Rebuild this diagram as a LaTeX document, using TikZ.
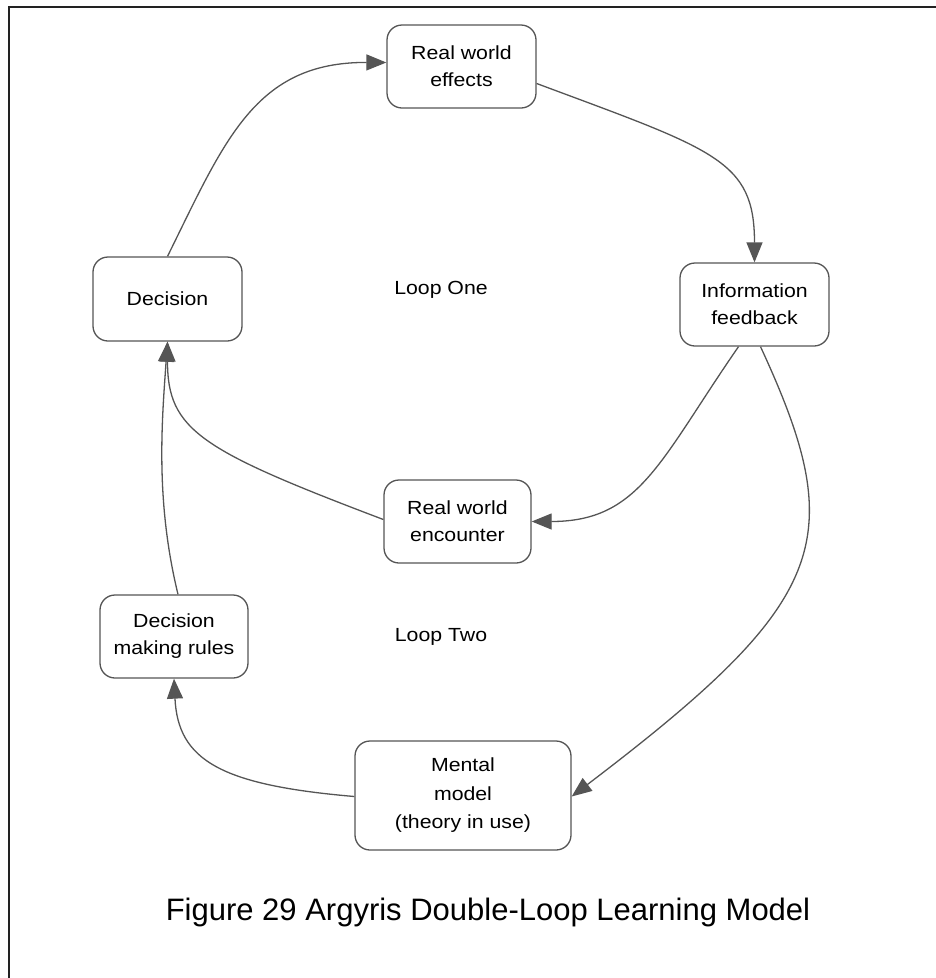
\documentclass[tikz,border=0pt]{standalone}
\usepackage{fontspec}
\setmainfont{Liberation Sans}
\newfontfamily\boxfont[FakeStretch=1.12]{Liberation Sans}
\usetikzlibrary{arrows.meta}
\definecolor{inkgray}{HTML}{555555}
\definecolor{framegray}{HTML}{222222}
\begin{document}
\begin{tikzpicture}[x=1pt,y=-1pt,
  box/.style={draw=inkgray, line width=1.3pt, rounded corners=15pt, fill=white,
    align=center, inner sep=0pt, font=\boxfont\fontsize{19}{27}\selectfont},
  link/.style={draw=inkgray, line width=1.3pt, -{Triangle[length=20pt,width=16pt]}},
  lbl/.style={font=\boxfont\fontsize{19}{22}\selectfont},
]
\useasboundingbox (0,0) rectangle (936,978);
% frame
\draw[framegray, line width=2pt] (9,978) -- (9,7) -- (936,7);

% boxes
\node[box, minimum width=149pt, minimum height=83pt] (eff) at (461.5,66.5) {Real world\\effects};
\node[box, minimum width=149pt, minimum height=84pt] (dec) at (167.5,299) {Decision};
\node[box, minimum width=149pt, minimum height=83pt] (info) at (754.5,304.5) {Information\\feedback};
\node[box, minimum width=147pt, minimum height=83pt] (enc) at (457.5,521.5) {Real world\\encounter};
\node[box, minimum width=148pt, minimum height=83pt] (rules) at (174,636.5) {Decision\\making rules};
\node[box, minimum width=216pt, minimum height=109pt, font=\boxfont\fontsize{19}{28.5}\selectfont] (mental) at (463,795.5) {Mental\\model\\(theory in use)};

% loop labels
\node[lbl] (one) at (441,290) {Loop One};
\node[lbl] (two) at (441,637) {Loop Two};

% connectors
\draw[link] (dec.north) .. controls (225,140) and (255,62) .. ([yshift=4pt]eff.west);
\draw[link] ([yshift=-17pt]eff.east) .. controls (715,150) and (754.5,160) .. (info.north);
\draw[link] ([xshift=-16pt]info.south) .. controls (660,460) and (640,521.5) .. (enc.east);
\draw[link] ([yshift=2pt]enc.west) .. controls (200,450) and (167.5,430) .. (dec.south);
\draw[link] ([xshift=6pt]info.south) .. controls (850,540) and (830,600) .. ([yshift=-1pt]mental.east);
\draw[link] ([yshift=-1pt]mental.west) .. controls (220,785) and (178,760) .. (rules.south);
\draw[link] ([xshift=4pt]rules.north) .. controls (155,500) and (162,420) .. (dec.south);

% caption
\node[font=\fontsize{31}{36}\selectfont] (cap) at (488,912) {Figure 29 Argyris Double-Loop Learning Model};
\end{tikzpicture}
\end{document}
